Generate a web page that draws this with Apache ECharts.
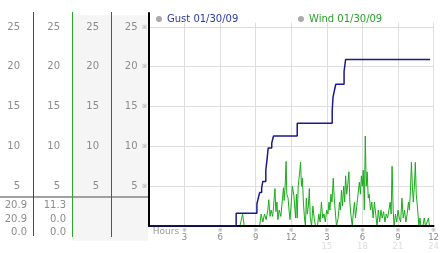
<!DOCTYPE html>
<html><head><meta charset="utf-8">
<script src="https://cdn.jsdelivr.net/npm/echarts@6/dist/echarts.min.js"></script>
<style>html,body{margin:0;padding:0;background:#fff}#c{width:442px;height:253px}</style>
</head><body><div id="c"></div>
<script>
// ---- data ----
const hourTicks = [0, 3, 6, 9, 12, 15, 18, 21, 24];
const hourLabels = ['Hours', '3', '6', '9', '12', '3', '6', '9', '12'];
const hourLabels24 = ['', '', '', '', '', '15', '18', '21', '24'];
const valueTicks = [5, 10, 15, 20, 25];
const gustName = 'Gust 01/30/09';
const windName = 'Wind 01/30/09';
const gustHours = [0, 7.35, 9.10, 9.20, 9.33, 9.50, 9.60, 9.85, 9.95, 10.05, 10.35, 10.50, 12.50, 15.45, 15.52, 15.62, 15.75, 16.45, 16.58, 23.70];
const gustValues = [0, 1.6, 2.8, 3.4, 4.2, 4.8, 5.6, 7.0, 8.3, 9.8, 10.4, 11.3, 12.9, 14.5, 16.2, 16.9, 17.8, 19.4, 20.9, 20.9];
const windHours = [7.67, 7.89, 8.03, 9.33, 9.46, 9.60, 9.74, 9.88, 10.02, 10.10, 10.21, 10.29, 10.43, 10.51, 10.62, 10.70, 10.79, 10.87, 10.98, 11.12, 11.26, 11.34, 11.40, 11.48, 11.56, 11.62, 11.73, 11.81, 11.89, 12.00, 12.09, 12.22, 12.36, 12.43, 12.50, 12.58, 12.69, 12.78, 12.86, 12.94, 13.02, 13.11, 13.19, 13.27, 13.35, 13.44, 13.52, 13.60, 13.71, 13.82, 13.93, 14.04, 14.21, 14.32, 14.43, 14.54, 14.65, 14.76, 14.87, 14.98, 15.09, 15.18, 15.26, 15.34, 15.43, 15.54, 15.62, 15.70, 15.81, 15.95, 16.06, 16.14, 16.23, 16.31, 16.42, 16.50, 16.58, 16.67, 16.75, 16.86, 16.94, 17.02, 17.14, 17.25, 17.33, 17.41, 17.52, 17.63, 17.74, 17.83, 17.91, 17.99, 18.07, 18.16, 18.24, 18.32, 18.40, 18.49, 18.57, 18.68, 18.79, 18.90, 19.01, 19.12, 19.23, 19.34, 19.45, 19.56, 19.67, 19.78, 19.90, 20.01, 20.12, 20.23, 20.34, 20.42, 20.50, 20.59, 20.67, 20.78, 20.89, 21.00, 21.11, 21.22, 21.33, 21.44, 21.55, 21.66, 21.77, 21.88, 21.96, 22.05, 22.13, 22.21, 22.29, 22.38, 22.46, 22.54, 22.66, 22.76, 22.85, 22.93, 23.10, 23.21, 23.32, 23.48, 23.57, 23.65];
const windValues = [0, 1.5, 0, 0, 1.5, 0.5, 1.5, 0.8, 2, 3.3, 1.2, 2, 1.2, 2.5, 4.7, 1.8, 3, 0.8, 2, 1.2, 3.5, 4.8, 3.2, 5, 8.1, 4, 3.5, 2, 0.8, 3, 5, 3.8, 1, 4, 1, 5, 6.5, 8, 5, 6, 3, 1, 0, 3.5, 1.5, 2.5, 4.7, 1, 0, 2.5, 1, 0, 0, 1.5, 0.5, 3, 1, 1.5, 0.5, 2, 1.5, 3, 2, 4, 3, 6, 3.5, 2, 0, 1, 3, 2, 4.5, 2.5, 5, 3, 6.3, 4, 5, 6.8, 3, 1.5, 0, 2, 3, 1, 2.5, 4, 5.5, 4, 6.3, 5, 7, 2, 11.3, 5, 6.8, 3.5, 4, 2, 3, 1, 3, 1.5, 0, 2, 0.5, 2, 1, 1.8, 0.5, 1.5, 1, 2, 3, 1.5, 7.5, 2, 0, 1.5, 0.5, 2, 1, 0.5, 3.5, 1, 2, 0.5, 1.5, 3, 2, 4.5, 8, 5, 3, 5, 8, 4, 2, 0, 1, 0, 0, 1, 0, 0, 1, 0];

// ---- derived stats (max / current / min) ----
function stats(vals) {
  return [Math.max(...vals), vals[vals.length - 1], Math.min(...vals)].map(v => v.toFixed(1));
}
const gustStats = stats(gustValues);
const windStats = stats(windValues);

// ---- layout ----
const yMax = 26.75;
const FONT = 'DejaVu Sans';
const chart = echarts.init(document.getElementById('c'), null, {renderer: 'canvas'});

const tickLabel = v => valueTicks.includes(v) ? String(v) : '';
function colAxis(offset) {
  return {
    type: 'value', min: 0, max: yMax, interval: 5, position: 'left', offset: offset, z: 3,
    axisLine: {show: false}, axisTick: {show: false}, splitLine: {show: false},
    axisLabel: {margin: 0, fontSize: 10, fontFamily: FONT, color: '#8c8c8c', formatter: tickLabel,
      showMinLabel: false, showMaxLabel: false}
  };
}

const statRowsY = [205, 219, 232];
const statTexts = [];
[[gustStats, 27], [windStats, 66]].forEach(([st, xr]) => {
  st.forEach((t, i) => statTexts.push({
    type: 'text', z: 3, style: {text: t, x: xr, y: statRowsY[i], textAlign: 'right', textVerticalAlign: 'middle',
      fill: '#8c8c8c', font: '10px "DejaVu Sans"'}
  }));
});

const option = {
  animation: false,
  backgroundColor: '#fff',
  grid: {left: 149, right: 2, top: 13, bottom: 27, containLabel: false},
  legend: [
    {data: [{name: gustName, itemStyle: {color: '#aaa'}, textStyle: {color: '#2a3aa3'}}],
      left: 156, top: 14, padding: 0, itemWidth: 6, itemHeight: 6, icon: 'circle', selectedMode: false, z: 8,
      textStyle: {fontSize: 10, fontFamily: FONT}},
    {data: [{name: windName, itemStyle: {color: '#aaa'}, textStyle: {color: '#2aa02a'}}],
      left: 298, top: 14, padding: 0, itemWidth: 6, itemHeight: 6, icon: 'circle', selectedMode: false, z: 8,
      textStyle: {fontSize: 10, fontFamily: FONT}}
  ],
  xAxis: [
    {type: 'value', min: 0, max: 24, interval: 3, position: 'bottom', z: 2,
      axisLine: {show: false}, axisTick: {show: false},
      splitLine: {show: true, lineStyle: {color: '#ddd', width: 1}},
      axisLabel: {
        margin: 2, showMinLabel: true, showMaxLabel: true, fontFamily: FONT, color: '#888',
        formatter: v => {
          const i = hourTicks.indexOf(v);
          if (i < 0) return '';
          if (i === 0) return '{h|' + hourLabels[0] + '}';
          let s = '{m|※}\n{v|' + hourLabels[i] + '}';
          if (hourLabels24[i]) s += '\n{p|' + hourLabels24[i] + '}';
          return s;
        },
        rich: {
          h: {fontSize: 9, lineHeight: 8, color: '#999', fontFamily: FONT, padding: [0, 0, 0, 34]},
          m: {fontSize: 6, lineHeight: 5, color: '#999'},
          v: {fontSize: 8.5, lineHeight: 9, color: '#888', fontFamily: FONT},
          p: {fontSize: 8.5, lineHeight: 10, color: '#ddd', fontFamily: FONT}
        }
      }},
    {type: 'value', min: 0, max: 24, position: 'bottom', z: 5,
      axisLine: {show: true, lineStyle: {color: '#000', width: 2}},
      axisTick: {show: false}, axisLabel: {show: false}, splitLine: {show: false}}
  ],
  yAxis: [
    {type: 'value', min: 0, max: yMax, interval: 5, position: 'left', z: 2,
      axisLine: {show: false}, axisTick: {show: false},
      splitLine: {show: true, showMaxLine: false, lineStyle: {color: '#ddd', width: 1}},
      axisLabel: {margin: 2, fontSize: 6, color: '#999', formatter: v => valueTicks.includes(v) ? '※' : '',
        showMinLabel: false, showMaxLabel: false}},
    {type: 'value', min: 0, max: yMax, position: 'left', z: 7,
      axisLine: {show: true, lineStyle: {color: '#000', width: 2}},
      axisTick: {show: false}, axisLabel: {show: false}, splitLine: {show: false}},
    colAxis(11.5), colAxis(50), colAxis(89), colAxis(129)
  ],
  graphic: [
    {type: 'rect', z: 1, shape: {x: 73, y: 15, width: 75, height: 226}, style: {fill: '#f5f5f5'}},
    {type: 'rect', z: 4, shape: {x: 150, y: 11, width: 292, height: 11.5}, style: {fill: '#fff'}},
    {type: 'line', z: 2, shape: {x1: 0, y1: 197, x2: 148, y2: 197}, style: {stroke: '#a0a0a0', lineWidth: 2}},
    {type: 'line', z: 2, shape: {x1: 33.5, y1: 12, x2: 33.5, y2: 236}, style: {stroke: '#1f45c0', lineWidth: 1}},
    {type: 'line', z: 2, shape: {x1: 72.5, y1: 12, x2: 72.5, y2: 237}, style: {stroke: '#2aa82a', lineWidth: 1}},
    {type: 'line', z: 2, shape: {x1: 111.5, y1: 12, x2: 111.5, y2: 237}, style: {stroke: '#c02828', lineWidth: 1}}
  ].concat(statTexts),
  series: [
    {name: windName, type: 'line', xAxisIndex: 0, yAxisIndex: 0, z: 3,
      data: windHours.map((h, i) => [h, windValues[i]]),
      symbol: 'none', showSymbol: false,
      lineStyle: {color: '#1aaa1a', width: 1}, itemStyle: {color: '#1aaa1a'}},
    {name: gustName, type: 'line', step: 'end', xAxisIndex: 0, yAxisIndex: 0, z: 6,
      data: gustHours.map((h, i) => [h, gustValues[i]]),
      symbol: 'none', showSymbol: false,
      lineStyle: {color: '#1a1a8c', width: 1.5}, itemStyle: {color: '#1a1a8c'}}
  ]
};
chart.setOption(option);
</script>
</body></html>
